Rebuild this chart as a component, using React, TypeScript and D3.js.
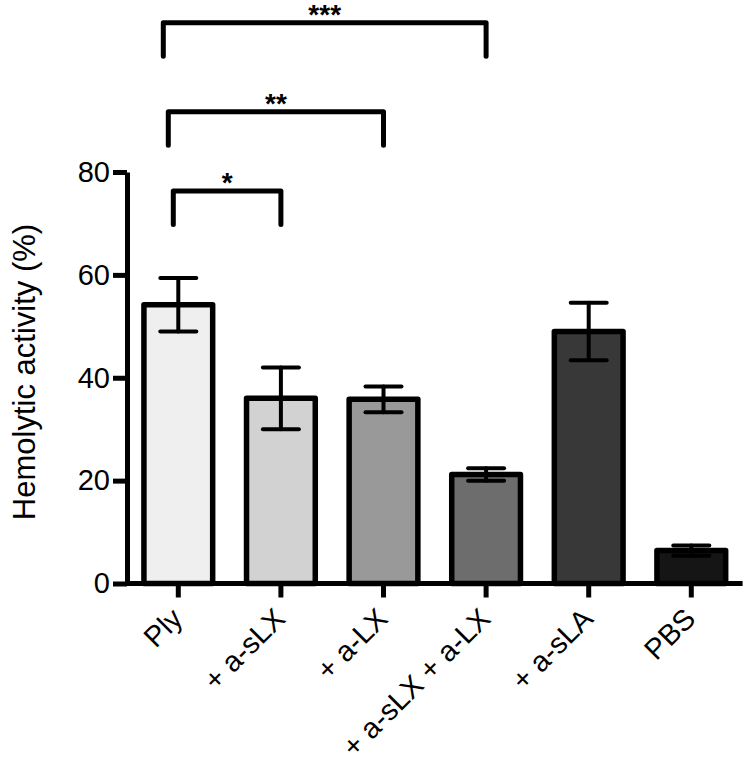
import React, { useRef, useEffect } from "react";
import * as d3 from "d3";

// values
const categories = ["Ply", "+ a-sLX", "+ a-LX", "+ a-sLX + a-LX", "+ a-sLA", "PBS"];
const means = [54.2, 36.0, 35.8, 21.2, 49.0, 6.4];
const errors = [5.2, 6.0, 2.5, 1.2, 5.6, 1.0];
const yTicks = [0, 20, 40, 60, 80];

// significance brackets
const compFrom = ["Ply", "Ply", "Ply"];
const compTo = ["+ a-sLX", "+ a-LX", "+ a-sLX + a-LX"];
const compLabels = ["*", "**", "***"];
const compLevels = [76.3, 91.7, 109];

const barFills = ["#efefef", "#d2d2d2", "#999999", "#6d6d6d", "#383838", "#151515"];

const FONT = "'Liberation Sans', Arial, Helvetica, sans-serif";

const App = () => {
  const svgRef = useRef<SVGSVGElement>(null);

  useEffect(() => {
    if (!svgRef.current) return;
    const width = 747;
    const height = 762;
    const svg = d3.select(svgRef.current);
    svg.selectAll("*").remove();
    svg.attr("width", width).attr("height", height);

    const x = d3
      .scaleBand<string>()
      .domain(categories)
      .range([127, 742.6])
      .paddingInner(0.33)
      .paddingOuter(0.165);
    const y = d3.scaleLinear().domain([0, 80]).range([583.5, 172]);
    const cx = (c: string) => (x(c) as number) + x.bandwidth() / 2;

    const data = categories.map((c, i) => ({ c, m: means[i], e: errors[i], fill: barFills[i] }));

    // bars
    svg
      .append("g")
      .selectAll("rect")
      .data(data)
      .enter()
      .append("rect")
      .attr("x", (d) => x(d.c) as number)
      .attr("width", x.bandwidth())
      .attr("y", (d) => y(d.m))
      .attr("height", (d) => y(0) - y(d.m))
      .attr("fill", (d) => d.fill)
      .attr("stroke", "#000")
      .attr("stroke-width", 5.5)
      .attr("stroke-linejoin", "round");

    // error bars
    const eb = svg.append("g").attr("stroke", "#000").attr("stroke-width", 4).attr("stroke-linecap", "round");
    const capHalf = 18;
    data.forEach((d) => {
      eb.append("line").attr("x1", cx(d.c)).attr("x2", cx(d.c)).attr("y1", y(d.m + d.e)).attr("y2", y(d.m - d.e));
      eb.append("line")
        .attr("x1", cx(d.c) - capHalf)
        .attr("x2", cx(d.c) + capHalf)
        .attr("y1", y(d.m + d.e))
        .attr("y2", y(d.m + d.e));
      eb.append("line")
        .attr("x1", cx(d.c) - capHalf)
        .attr("x2", cx(d.c) + capHalf)
        .attr("y1", y(d.m - d.e))
        .attr("y2", y(d.m - d.e));
    });

    // y axis
    const yAxis = svg.append("g").attr("transform", "translate(127,0)");
    yAxis.call(d3.axisLeft(y).tickValues(yTicks).tickSize(14).tickSizeOuter(0).tickPadding(3));
    yAxis.select(".domain").attr("stroke-width", 5).attr("stroke", "#000");
    yAxis.selectAll(".tick line").attr("stroke-width", 5).attr("stroke", "#000");
    yAxis
      .selectAll(".tick text")
      .attr("font-family", FONT)
      .attr("font-size", 29)
      .attr("fill", "#000");

    // x axis
    const xAxis = svg.append("g").attr("transform", `translate(0,${y(0)})`);
    xAxis.call(d3.axisBottom(x).tickSize(14).tickSizeOuter(0));
    xAxis.select(".domain").attr("stroke-width", 5).attr("stroke", "#000").attr("d", `M127,0H742.6`);
    xAxis.selectAll(".tick line").attr("stroke-width", 5).attr("stroke", "#000");
    xAxis
      .selectAll(".tick text")
      .attr("font-family", FONT)
      .attr("font-size", 29)
      .attr("fill", "#000")
      .attr("text-anchor", "end")
      .attr("dy", null)
      .attr("y", 0)
      .attr("transform", "translate(6,37) rotate(-45)");

    // y axis title
    svg
      .append("text")
      .attr("transform", "translate(35,372) rotate(-90)")
      .attr("text-anchor", "middle")
      .attr("font-family", FONT)
      .attr("font-size", 31)
      .attr("fill", "#000")
      .text("Hemolytic activity (%)");

    // significance brackets
    const br = svg.append("g");
    compFrom.forEach((f, i) => {
      const x1 = cx(f) - 5 * (i + 1);
      const x2 = cx(compTo[i]);
      const yl = y(compLevels[i]);
      const yb = y(compLevels[i] - 6.5);
      br.append("path")
        .attr("d", `M${x1},${yb}V${yl}H${x2}V${yb}`)
        .attr("fill", "none")
        .attr("stroke", "#000")
        .attr("stroke-width", 5)
        .attr("stroke-linecap", "round")
        .attr("stroke-linejoin", "round");
      br.append("text")
        .attr("x", (x1 + x2) / 2)
        .attr("y", yl + 1)
        .attr("text-anchor", "middle")
        .attr("font-family", FONT)
        .attr("font-weight", "bold")
        .attr("font-size", 28)
        .attr("fill", "#000")
        .text(compLabels[i]);
    });
  }, []);

  return <svg ref={svgRef} style={{ position: "absolute", left: 0, top: 0, background: "#fff" }}></svg>;
};

export default App;
